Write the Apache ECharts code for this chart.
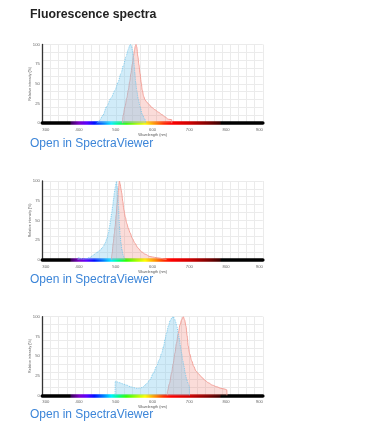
<!DOCTYPE html>
<html>
<head>
<meta charset="utf-8">
<script src="https://cdn.jsdelivr.net/npm/echarts@6/dist/echarts.min.js"></script>
<style>
  html, body { margin: 0; padding: 0; background: #fff; }
  body { width: 375px; height: 422px; position: relative; overflow: hidden; font-family: 'Liberation Sans', Arial, sans-serif; }
  #chart { position: absolute; left: 0; top: 0; width: 375px; height: 422px; }
  .title { position: absolute; left: 30px; top: 7px; font-size: 12.3px; font-weight: bold; color: #222; white-space: nowrap; }
  .link { position: absolute; left: 30px; font-size: 12px; line-height: 14px; color: #3c85d8; white-space: nowrap; }
</style>
</head>
<body>
<div id="chart"></div>
<div class="title">Fluorescence spectra</div>
<div class="link" style="top:136px">Open in SpectraViewer</div>
<div class="link" style="top:272px">Open in SpectraViewer</div>
<div class="link" style="top:407px">Open in SpectraViewer</div>
<script>
// ---- data (wavelength nm, relative intensity %) ----
const xTickLabels = [300, 400, 500, 600, 700, 800, 900];
const yTickLabels = [0, 25, 50, 75, 100];

const spec1Ex = [[448,0],[455,3],[465,10],[475,21],[487,32],[498,42],[506,52],[514,63],[521,74],[528,85],[534,94],[538,99],[540.5,100],[543,97],[546,90],[548,85],[550,74],[552,63],[554,52],[557,42],[561,31],[566,21],[572,11],[579,5],[582,0]];
const spec1Em = [[518,0],[520,10],[525,21],[530,32],[534,42],[538,53],[541,63],[545,75],[548,85],[551,93],[553,98],[555,100],[557,97],[560,85],[563,74],[566,63],[569,52],[572,42],[576,34],[579,30],[584,27],[590,24],[598,20],[607,17],[616,14],[625,11],[634,8],[643,5],[652,4.5],[652.5,0]];

const spec2Ex = [[397,0],[398,3],[402,2],[410,1],[421,1.5],[430,3],[439,6],[448,9],[457,12],[465,16],[471,21],[476,27],[480,34],[483,42],[486,51],[489,60],[491.5,68],[494,77],[496,85],[499,93],[501,98],[502,100],[504,92],[506,80],[507.5,68],[509,52],[510,42],[512,31],[514,21],[517,12],[520,6],[523,2],[525,0]];
const spec2Em = [[488,0],[490,8],[493,21],[496,33],[498,42],[501,57],[504,72],[507,88],[509.7,100],[512,96],[514,90],[516,85],[519,74],[522,63],[526,54],[530,46],[534,40],[539,34],[545,27],[552,21],[560,15],[570,10],[580,7],[593,4],[605,3],[620,2],[630,1],[638,0.5],[639,0]];

const spec3Ex = [[498,0],[498.5,18],[505,17],[511,16],[520,14.5],[530,13],[540,11],[548,10],[555,9],[561,9],[568,9.5],[575,11],[584,15],[593,20],[602,28],[611,37],[618,45],[625,54],[630,62],[634,71],[638,79],[643,88],[648,95],[653,99],[656.5,100],[660,97],[663,93],[666,88],[670,79],[673,71],[676,62],[679,54],[682,45],[685.6,37],[689,28],[693,20],[697,15],[700,12],[700.5,0]];
const spec3Em = [[640,0],[640.5,5],[646,15],[652,29],[656,40],[661,54],[665,66],[670,79],[675,90],[679,96],[683.7,100],[687,96],[691,88],[694,76],[697,63],[701,53],[706.5,44],[712,37],[718,31],[726,27],[734,23],[743,19],[752,16],[763,13],[774.5,11],[786,9],[797,8],[802,7],[802.5,0]];

const panels = [
  { ex: spec1Ex, em: spec1Em, top: 44.5 },
  { ex: spec2Ex, em: spec2Em, top: 181 },
  { ex: spec3Ex, em: spec3Em, top: 316.7 }
];

const chart = echarts.init(document.getElementById('chart'), null, { renderer: 'canvas' });
const FONT = "'Liberation Sans', Arial, sans-serif";
const xMin = xTickLabels[0], xMax = xTickLabels[xTickLabels.length - 1];
const xStep = xTickLabels[1] - xTickLabels[0];
const yMin = yTickLabels[0], yMax = yTickLabels[yTickLabels.length - 1];
const yStep = yTickLabels[1] - yTickLabels[0];

const nm = v => (v - xMin) / (xMax - xMin);
const rainbow = new echarts.graphic.LinearGradient(0, 0, 1, 0, [
  { offset: 0, color: '#000000' },
  { offset: nm(380), color: '#000000' },
  { offset: nm(383), color: '#3a0058' },
  { offset: nm(405), color: '#7a00c8' },
  { offset: nm(425), color: '#5a00ff' },
  { offset: nm(445), color: '#0010ff' },
  { offset: nm(470), color: '#0080ff' },
  { offset: nm(490), color: '#00f0ff' },
  { offset: nm(510), color: '#00ff80' },
  { offset: nm(530), color: '#30ff00' },
  { offset: nm(560), color: '#b0ff00' },
  { offset: nm(580), color: '#ffff00' },
  { offset: nm(605), color: '#ff9800' },
  { offset: nm(630), color: '#ff3000' },
  { offset: nm(650), color: '#ff0000' },
  { offset: nm(700), color: '#cc0000' },
  { offset: nm(750), color: '#7a0000' },
  { offset: nm(780), color: '#3a0000' },
  { offset: nm(782), color: '#000000' },
  { offset: 1, color: '#000000' }
]);

const grids = [], xAxes = [], yAxes = [], series = [];
panels.forEach((p, i) => {
  grids.push({ left: 42.3, width: 220.5, top: p.top, height: 78.7, containLabel: false });
  xAxes.push({
    gridIndex: i, type: 'value', min: xMin, max: xMax, interval: xStep, position: 'bottom', offset: 1.8,
    name: 'Wavelength (nm)', nameLocation: 'middle', nameGap: 8, nameMoveOverlap: false,
    nameTextStyle: { fontSize: 3.8, color: '#555', fontFamily: FONT },
    axisLine: { show: true, lineStyle: { color: rainbow, width: 3.6 } },
    axisTick: { show: false }, splitLine: { show: false },
    axisLabel: { fontSize: 4.2, color: '#666', margin: 3, fontFamily: FONT, alignMinLabel: 'left', alignMaxLabel: 'right' }
  });
  xAxes.push({
    gridIndex: i, type: 'value', min: 0, max: 27, interval: 1, position: 'top',
    axisLine: { show: false }, axisTick: { show: false }, axisLabel: { show: false },
    splitLine: { show: true, lineStyle: { color: '#ebebeb', width: 1 } }
  });
  yAxes.push({
    gridIndex: i, type: 'value', min: yMin, max: yMax, interval: yStep, position: 'left',
    name: 'Relative intensity (%)', nameLocation: 'middle', nameGap: 10, nameMoveOverlap: false,
    nameTextStyle: { fontSize: 3.6, color: '#555', fontFamily: FONT },
    axisLine: { show: true, lineStyle: { color: '#333', width: 1.3 } },
    axisTick: { show: false }, splitLine: { show: false },
    axisLabel: { fontSize: 4.2, color: '#666', margin: 2.5, fontFamily: FONT }
  });
  yAxes.push({
    gridIndex: i, type: 'value', min: 0, max: 100, interval: 10, position: 'right',
    axisLine: { show: false }, axisTick: { show: false }, axisLabel: { show: false },
    splitLine: { show: true, lineStyle: { color: '#ebebeb', width: 1 } }
  });
  series.push({
    type: 'line', xAxisIndex: 2 * i, yAxisIndex: 2 * i, data: p.em,
    smooth: 0.3, smoothMonotone: 'x', showSymbol: false, silent: true,
    lineStyle: { color: '#f29890', width: 0.9 },
    areaStyle: { color: 'rgba(242,128,120,0.4)' }, z: 2
  });
  series.push({
    type: 'line', xAxisIndex: 2 * i, yAxisIndex: 2 * i, data: p.ex,
    smooth: 0.3, smoothMonotone: 'x', showSymbol: false, silent: true,
    lineStyle: { color: '#72c5ea', width: 0.9, type: 'dotted' },
    areaStyle: { color: 'rgba(130,204,238,0.52)' }, z: 3
  });
});

chart.setOption({
  animation: false,
  grid: grids, xAxis: xAxes, yAxis: yAxes, series: series
});
</script>
</body>
</html>
